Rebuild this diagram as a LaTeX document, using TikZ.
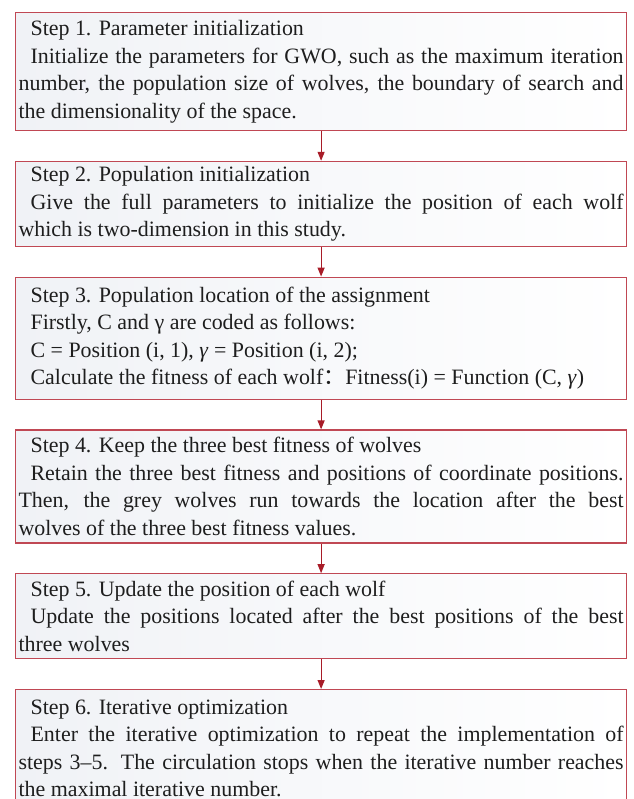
\documentclass[tikz,border=0pt]{standalone}
\usepackage{fontspec}
\setmainfont{Liberation Serif}
\newfontfamily\cjk{Noto Sans CJK SC}
\usepackage{xcolor}
\definecolor{boxline}{RGB}{192,72,84}
\definecolor{arrowred}{RGB}{168,28,40}
\definecolor{boxshade}{RGB}{240,242,246}
\definecolor{ink}{RGB}{30,30,30}
\usepackage{tikz}
\usetikzlibrary{arrows.meta, positioning}
\newcommand{\indl}{\hspace*{6bp}}
\newcommand{\boxfont}{\fontsize{11}{13.8}\selectfont\sloppy\hyphenpenalty=10000\relax}

\begin{document}
\begin{tikzpicture}[
    node distance=14.8bp,
    box/.style={
        rectangle,
        draw=boxline,
        line width=0.6bp,
        left color=boxshade,
        right color=white,
        text width=302.5bp,
        inner xsep=1.5bp,
        inner ysep=0.5bp,
        align=justify,
        text=ink,
        font=\boxfont
    },
    arr/.style={-{Triangle[length=4.5bp, width=3.5bp]}, arrowred, line width=0.6bp}
]
\useasboundingbox (0,0) rectangle (317bp,-399.5bp);

\node[box, minimum height=59bp, anchor=north west] (s1) at (7.5bp,-6bp)
    {\indl Step 1. Parameter initialization\\
     \indl Initialize the parameters for GWO, such as the maximum iteration\linebreak
     number, the population size of wolves, the boundary of search and\linebreak
     the dimensionality of the space.};
\node[box, minimum height=42.5bp, below=of s1] (s2)
    {\indl Step 2. Population initialization\\
     \indl Give the full parameters to initialize the position of each wolf\linebreak
     which is two-dimension in this study.};
\node[box, minimum height=61bp, below=of s2] (s3)
    {\indl Step 3. Population location of the assignment\\
     \indl Firstly, C and γ are coded as follows:\\
     \indl C = Position (i, 1), \textit{γ} = Position (i, 2);\\
     \indl Calculate the fitness of each wolf{\cjk ：}Fitness(i) = Function (C, \textit{γ})};
\node[box, minimum height=56.5bp, below=of s3] (s4)
    {\indl Step 4. Keep the three best fitness of wolves\\
     \indl Retain the three best fitness and positions of coordinate positions.\linebreak
     Then, the grey wolves run towards the location after the best\linebreak
     wolves of the three best fitness values.};
\node[box, minimum height=42.5bp, below=of s4] (s5)
    {\indl Step 5. Update the position of each wolf\\
     \indl Update the positions located after the best positions of the best\linebreak
     three wolves};
\node[box, minimum height=59bp, below=of s5] (s6)
    {\indl Step 6. Iterative optimization\\
     \indl Enter the iterative optimization to repeat the implementation of\linebreak
     steps 3--5. The circulation stops when the iterative number reaches\linebreak
     the maximal iterative number.};

\draw[arr] (s1) -- (s2);
\draw[arr] (s2) -- (s3);
\draw[arr] (s3) -- (s4);
\draw[arr] (s4) -- (s5);
\draw[arr] (s5) -- (s6);

\end{tikzpicture}
\end{document}
